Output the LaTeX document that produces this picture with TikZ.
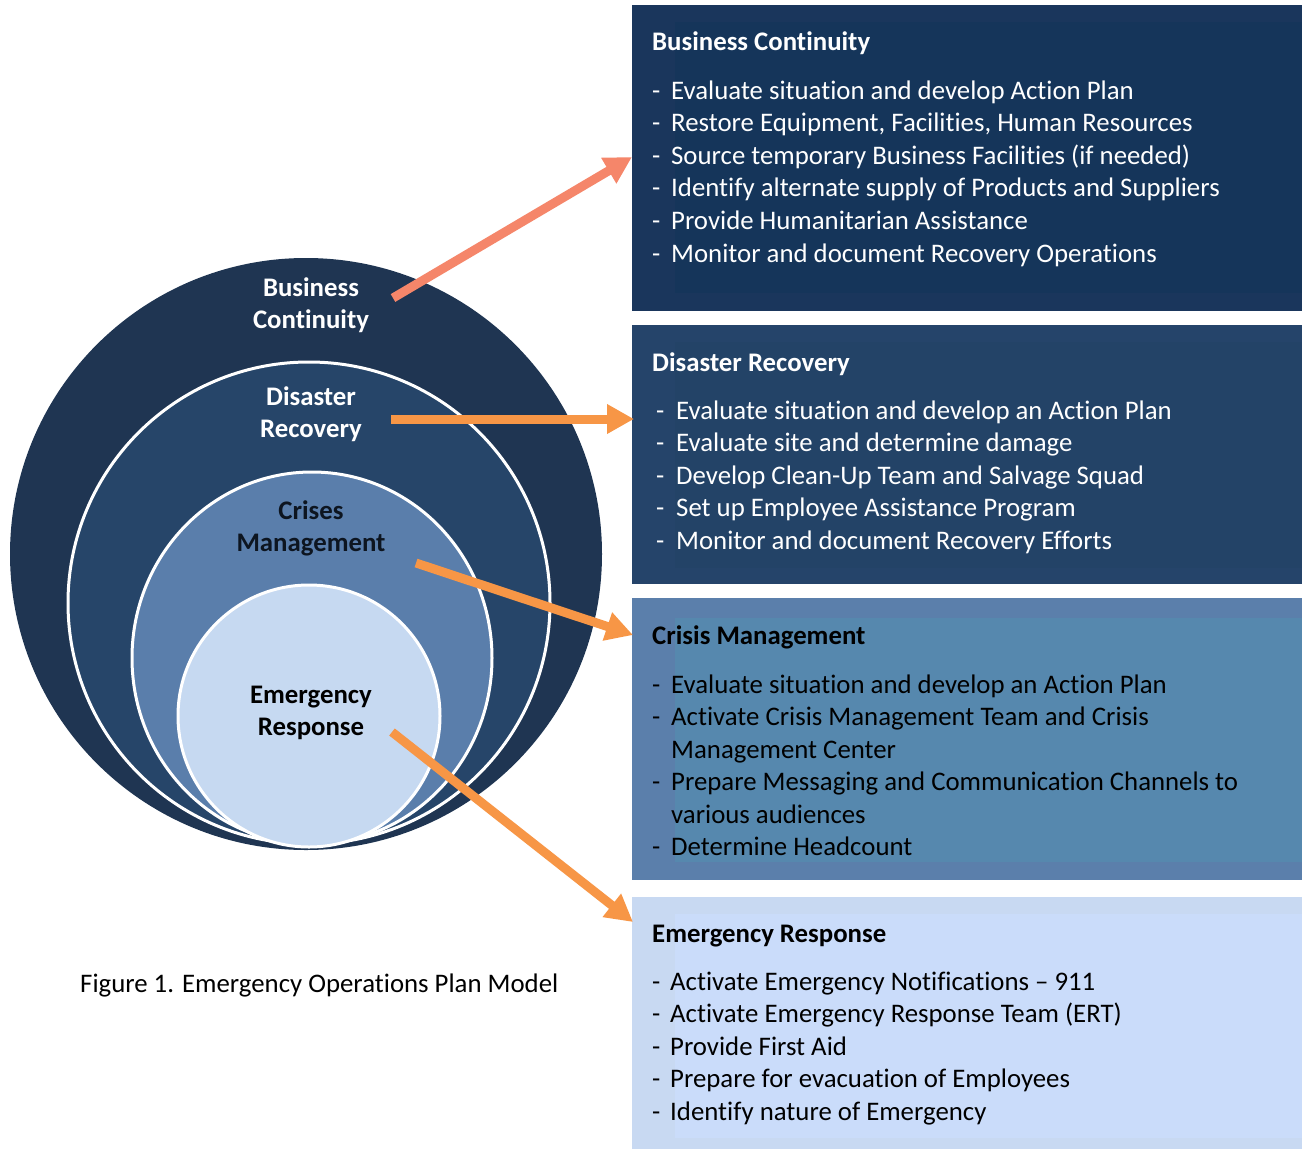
\documentclass[tikz,border=0pt]{standalone}
\usepackage{fontspec}
\setmainfont[Ligatures={TeX,NoCommon}]{Carlito}
\usetikzlibrary{arrows.meta,shapes.geometric}
\definecolor{bcA}{HTML}{1A365C}
\definecolor{bcB}{HTML}{15355A}
\definecolor{drA}{HTML}{25446A}
\definecolor{drB}{HTML}{234367}
\definecolor{cmA}{HTML}{5B7FAB}
\definecolor{cmB}{HTML}{5688AE}
\definecolor{erA}{HTML}{C8D9F2}
\definecolor{erB}{HTML}{CADCFA}
\definecolor{cOne}{HTML}{1F3552}
\definecolor{cTwo}{HTML}{264569}
\definecolor{cThree}{HTML}{5A7EAB}
\definecolor{cFour}{HTML}{C6D9F1}
\definecolor{orng}{HTML}{F79646}
\definecolor{salmon}{HTML}{F5866A}
\definecolor{darktext}{HTML}{0D1520}
\begin{document}
\begin{tikzpicture}[x=1pt,y=-1pt,
  ring/.style={circle, inner sep=0pt, draw=white, line width=3pt},
  clabel/.style={align=center, inner sep=0pt, font=\bfseries\fontsize{26.8}{32}\selectfont},
  item/.style={anchor=base west, inner sep=0pt, font=\fontsize{26.8}{31}\selectfont},
  btitle/.style={anchor=base west, inner sep=0pt, font=\bfseries\fontsize{26.8}{31}\selectfont},
  panel/.style={rectangle, inner sep=0pt, draw=none},
  arr/.style={line width=9pt, -{Triangle[length=27pt,width=28pt]}}
]
\useasboundingbox (0,0) rectangle (1302,1149);
\fill[white] (0,0) rectangle (1302,1149);

% panels
\node[panel, fill=bcA, minimum width=670pt, minimum height=306pt] (box1) at (967,158) {};
\fill[bcB] (675,22) rectangle (1302,293);
\node[panel, fill=drA, minimum width=670pt, minimum height=259pt] (box2) at (967,454.5) {};
\fill[drB] (675,342) rectangle (1302,568);
\node[panel, fill=cmA, minimum width=670pt, minimum height=282pt] (box3) at (967,739) {};
\fill[cmB] (675,618) rectangle (1302,862);
\node[panel, fill=erA, minimum width=670pt, minimum height=252pt] (box4) at (967,1023) {};
\fill[erB] (675,914) rectangle (1302,1138);

% circles
\node[circle, inner sep=0pt, fill=cOne, minimum size=592pt] (c1) at (306,554) {};
\node[ring, fill=cTwo, minimum size=482pt] (c2) at (309,603) {};
\node[ellipse, inner sep=0pt, draw=white, line width=3pt, fill=cThree, minimum width=360pt, minimum height=372pt] (c3) at (312,658) {};
\node[ring, fill=cFour, minimum size=262pt] (c4) at (309,716) {};

% circle labels
\node[clabel, text=white] (l1) at (311,305) {Business\\Continuity};
\node[clabel, text=white] (l2) at (311,414) {Disaster\\Recovery};
\node[clabel, text=darktext] (l3) at (311,528) {Crises\\Management};
\node[clabel, text=black] (l4) at (311,713) {Emergency\\Response};

% arrows
\coordinate (s1) at (393,298); \coordinate (e1) at (632,157);
\coordinate (s2) at (391,419); \coordinate (e2) at (634,419);
\coordinate (s3) at (416,563); \coordinate (e3) at (633,635);
\coordinate (s4) at (392,732); \coordinate (e4) at (633,922);
\draw[arr, salmon] (s1) -- (e1);
\draw[arr, orng] (s2) -- (e2);
\draw[arr, orng] (s3) -- (e3);
\draw[arr, orng] (s4) -- (e4);

% box 1
\node[btitle, text=white] (t1) at (652,50) {Business Continuity};
\foreach \t [count=\i] in {{Evaluate situation and develop Action Plan},{Restore Equipment, Facilities, Human Resources},{Source temporary Business Facilities (if needed)},{Identify alternate supply of Products and Suppliers},{Provide Humanitarian Assistance},{Monitor and document Recovery Operations}}
  \node[item, text=white] (bc\i) at (652,{99+32.6*(\i-1)}) {\makebox[19pt][l]{-}\t};

% box 2
\node[btitle, text=white] (t2) at (652,371) {Disaster Recovery};
\foreach \t [count=\i] in {{Evaluate situation and develop an Action Plan},{Evaluate site and determine damage},{Develop Clean-Up Team and Salvage Squad},{Set up Employee Assistance Program},{Monitor and document Recovery Efforts}}
  \node[item, text=white] (dr\i) at (652,{419+32.6*(\i-1)}) {\makebox[24pt][l]{\hspace{4pt}-}\t};

% box 3
\node[btitle, text=black] (t3) at (652,644) {Crisis Management};
\node[item, text=black] (cm1) at (652,693) {\makebox[19pt][l]{-}Evaluate situation and develop an Action Plan};
\node[item, text=black] (cm2) at (652,725) {\makebox[19pt][l]{-}Activate Crisis Management Team and Crisis};
\node[item, text=black] (cm3) at (652,758) {\makebox[19pt][l]{}Management Center};
\node[item, text=black] (cm4) at (652,790) {\makebox[19pt][l]{-}Prepare Messaging and Communication Channels to};
\node[item, text=black] (cm5) at (652,823) {\makebox[19pt][l]{}various audiences};
\node[item, text=black] (cm6) at (652,855) {\makebox[19pt][l]{-}Determine Headcount};

% box 4
\node[btitle, text=black] (t4) at (652,942) {Emergency Response};
\foreach \t [count=\i] in {{Activate Emergency Notifications – 911},{Activate Emergency Response Team (ERT)},{Provide First Aid},{Prepare for evacuation of Employees},{Identify nature of Emergency}}
  \node[item, text=black] (er\i) at (652,{990+32.6*(\i-1)}) {\makebox[18pt][l]{-}\t};

% caption
\node[item, text=black] (cap) at (80,992) {Figure 1. Emergency Operations Plan Model};
\end{tikzpicture}
\end{document}
